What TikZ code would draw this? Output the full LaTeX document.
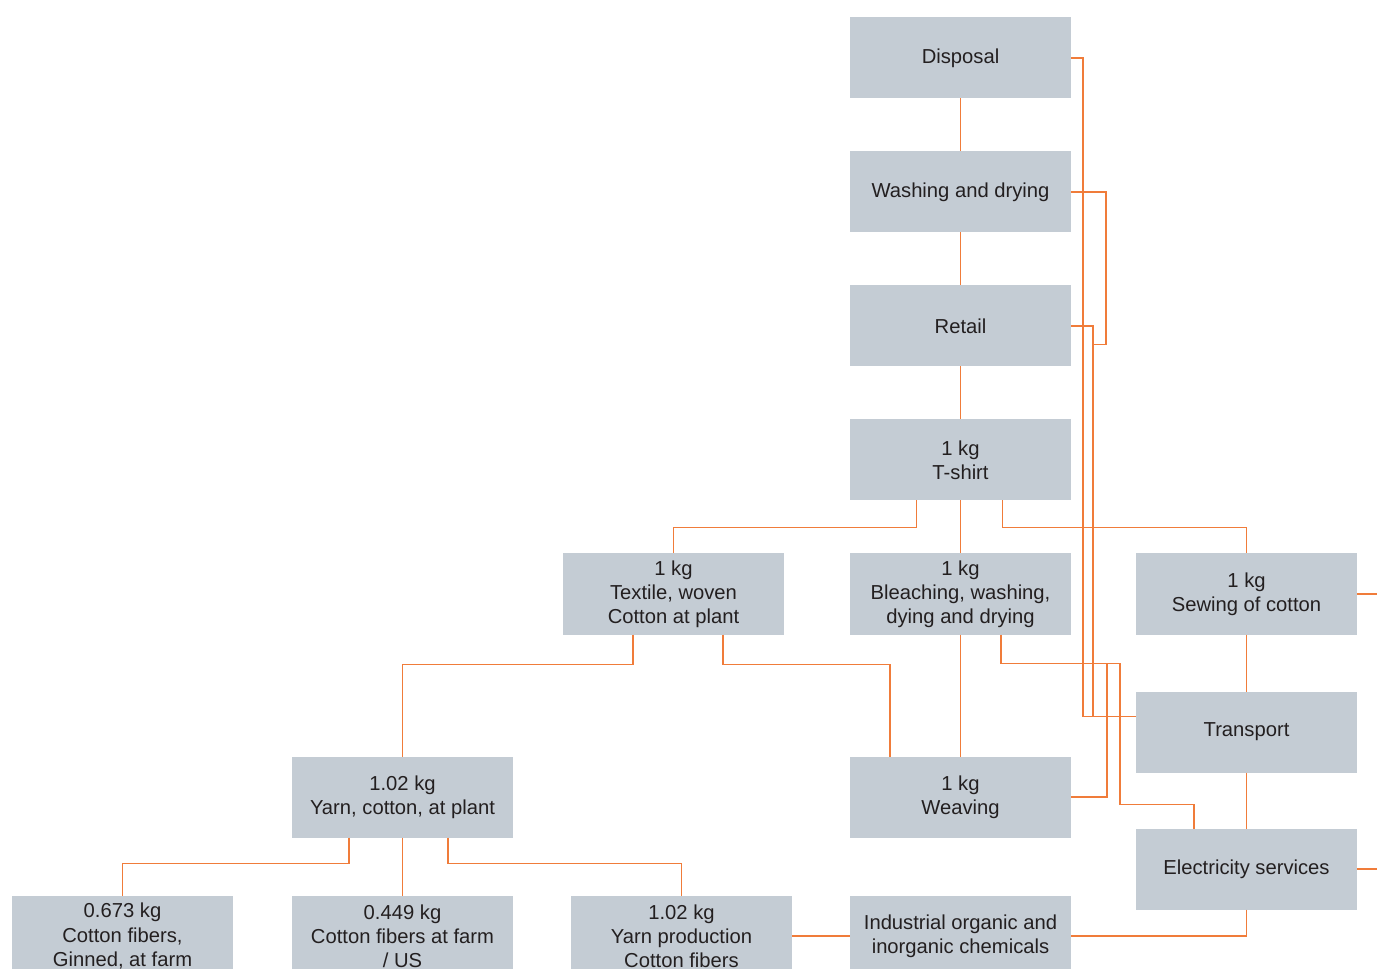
\documentclass[tikz,border=0pt]{standalone}
\definecolor{boxgrey}{RGB}{196, 204, 212}
\definecolor{flowline}{RGB}{240, 124, 58}
\definecolor{inktext}{RGB}{35, 31, 32}
\usepackage{fontspec}
\setmainfont{Liberation Sans}
\usepackage{tikz}
\usetikzlibrary{positioning}

\begin{document}
\begin{tikzpicture}[
					node distance=1.06cm and 1.3cm,
					box/.style={fill=boxgrey, draw=none, minimum width=4.42cm, minimum height=1.62cm,
						inner sep=0pt, outer sep=0pt, align=center, text=inktext,
						font=\fontsize{11.5}{13.7}\selectfont},
					link/.style={draw=flowline, line width=1.1pt}
					]
					\useasboundingbox (0,0) rectangle (27.54,-19.38);
					\node[box]  (disposal)  at (19.21,-1.16)                {Disposal};
					\node[box]  (wash)      [below=of disposal]             {Washing and drying};
					\node[box]  (retail)    [below=of wash]                 {Retail};
					\node[box]  (tshirt)    [below=of retail]               {1 kg\\T-shirt};
					\node[box]  (bleach)    [below=of tshirt]               {1 kg\\Bleaching, washing,\\dying and drying};
					\node[box]  (textile)   [left=1.32cm of bleach]         {1 kg\\Textile, woven\\Cotton at plant};
					\node[box]  (sewing)    [right=1.3cm of bleach]         {1 kg\\Sewing of cotton};
					\node[box]  (transport) [below=1.14cm of sewing]        {Transport};
					\node[box]  (elec)      [below=1.12cm of transport]     {Electricity services};
					\node[box]  (weaving)   [below=2.44cm of bleach]        {1 kg\\Weaving};
					\node[box]  (yarnplant) [left=6.74cm of weaving]        {1.02 kg\\Yarn, cotton, at plant};
					\node[box]  (chem)      [below=1.16cm of weaving]       {Industrial organic and\\inorganic chemicals};
					\node[box]  (yarnprod)  [left=1.16cm of chem]           {1.02 kg\\Yarn production\\Cotton fibers};
					\node[box]  (farmus)    [left=1.16cm of yarnprod]       {0.449 kg\\Cotton fibers at farm\\/ US};
					\node[box]  (ginned)    [left=1.18cm of farmus]         {0.673 kg\\Cotton fibers,\\Ginned, at farm};
					
					% main chain
					\draw[link] (disposal) -- (wash);
					\draw[link] (wash)     -- (retail);
					\draw[link] (retail)   -- (tshirt);
					\draw[link] (tshirt)   -- (bleach);
					\draw[link] (bleach.south) -- (bleach.south |- weaving.north);
					\draw[link] ([xshift=-0.88cm]tshirt.south) -- ++(0,-0.54) -| (textile.north);
					\draw[link] ([xshift=0.84cm]tshirt.south)  -- ++(0,-0.54) -| (sewing.north);
					\draw[link] (sewing)    -- (transport);
					\draw[link] (transport) -- (elec);
					\draw[link] (sewing.east) -- ++(0.5,0);
					\draw[link] (elec.east)   -- ++(0.5,0);
					\draw[link] (elec.south) |- (chem.east);
					\draw[link] (yarnprod)   -- (chem);
					
					% textile and yarn
					\draw[link] ([xshift=-0.81cm]textile.south) -- ++(0,-0.6) -| (yarnplant.north);
					\draw[link] ([xshift=0.99cm]textile.south)  -- ++(0,-0.6) -| ([xshift=-1.41cm]weaving.north);
					\draw[link] ([xshift=-1.07cm]yarnplant.south) -- ++(0,-0.52) -| (ginned.north);
					\draw[link] (yarnplant.south) -- (yarnplant.south |- farmus.north);
					\draw[link] ([xshift=0.91cm]yarnplant.south)  -- ++(0,-0.52) -| (yarnprod.north);
					
					% transport and electricity
					\coordinate (bleachturn) at ([xshift=0.81cm,yshift=-0.58cm]bleach.south);
					\coordinate (retailturn) at ([xshift=0.44cm,yshift=-0.37cm]retail.east);
					\draw[link] ([xshift=0.81cm]bleach.south) -- (bleachturn)
						-| ([xshift=-0.32cm,yshift=0.48cm]elec.north west) -| ([xshift=-1.05cm]elec.north);
					\draw[link] (weaving.east) -- ++(0.72,0) |- (bleachturn);
					\draw[link] (disposal.east) -- ++(0.24,0) |- ([yshift=0.31cm]transport.west);
					\draw[link] (wash.east) -- ++(0.7,0) |- (retailturn) |- ([yshift=0.31cm]transport.west);
					\draw[link] (retail.east) -| (retailturn);
				\end{tikzpicture}
\end{document}
